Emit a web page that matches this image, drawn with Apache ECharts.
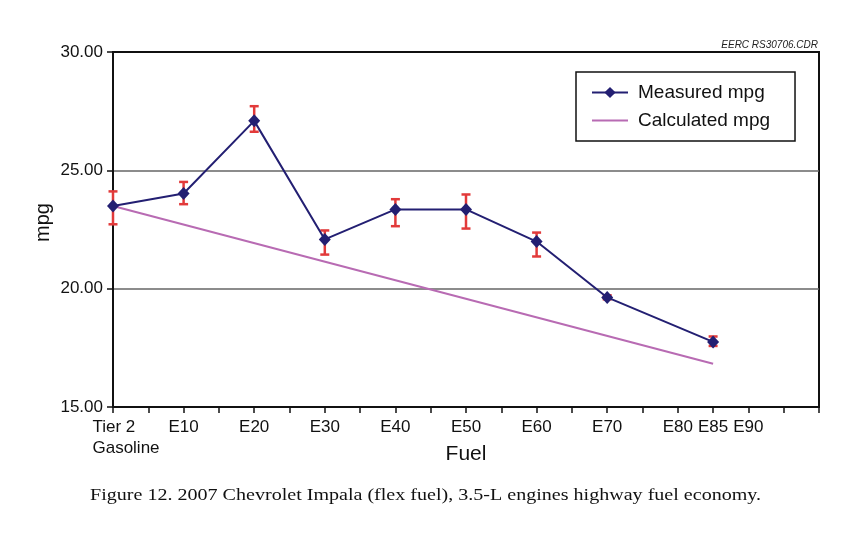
<!DOCTYPE html>
<html><head><meta charset="utf-8">
<script src="https://cdn.jsdelivr.net/npm/echarts@6/dist/echarts.min.js"></script>
<style>html,body{margin:0;padding:0;background:#fff}#c{width:846px;height:538px}</style>
</head><body><div id="c"></div>
<script>
const fuelX = [0, 10, 20, 30, 40, 50, 60, 70, 85];
const measured = [23.49, 24.02, 27.09, 22.08, 23.35, 23.35, 21.99, 19.63, 17.75];
const errLow = [22.72, 23.57, 26.63, 21.44, 22.64, 22.54, 21.36, 19.55, 17.58];
const errHigh = [24.11, 24.51, 27.71, 22.46, 23.78, 23.98, 22.37, 19.72, 17.98];
const calcX = [0, 85];
const calculated = [23.49, 16.83];
const tickValues = [0, 10, 20, 30, 40, 50, 60, 70, 80, 85, 90];
const tickLabels = ['Tier 2\nGasoline', 'E10', 'E20', 'E30', 'E40', 'E50', 'E60', 'E70', 'E80', 'E85', 'E90'];
const yMin = 15, yMax = 30, yStep = 5;

const SANS = 'Liberation Sans, Arial, sans-serif';
const chart = echarts.init(document.getElementById('c'), null, {renderer: 'canvas'});

const measuredData = fuelX.map((x, i) => [x, measured[i]]);
const calcData = calcX.map((x, i) => [x, calculated[i]]);
const errData = fuelX.map((x, i) => [x, errLow[i], errHigh[i]]);

chart.setOption({
  animation: false,
  backgroundColor: '#fff',
  grid: {left: 113, right: 27, top: 52, bottom: 131, show: true, borderColor: '#111', borderWidth: 2, backgroundColor: 'transparent'},
  legend: {
    orient: 'vertical', left: 576, top: 72,
    data: [
      {name: 'Measured mpg'},
      {name: 'Calculated mpg', itemStyle: {opacity: 0}}
    ],
    borderColor: '#111', borderWidth: 1.5, backgroundColor: '#fff',
    padding: [11, 25, 11, 15], itemGap: 9, itemWidth: 36, itemHeight: 14,
    textStyle: {fontFamily: SANS, fontSize: 19, color: '#111', padding: [0, 0, 0, 5]}
  },
  xAxis: {
    type: 'value', min: 0, max: 100, interval: 5,
    name: 'Fuel', nameLocation: 'middle', nameGap: 37, nameMoveOverlap: false,
    nameTextStyle: {fontFamily: SANS, fontSize: 21, color: '#111'},
    axisLine: {show: true, lineStyle: {color: '#111', width: 2}},
    axisTick: {show: true, inside: false, length: 6, lineStyle: {color: '#111', width: 1.5}},
    splitLine: {show: false},
    axisLabel: {
      fontFamily: SANS, fontSize: 17, color: '#111', margin: 10, lineHeight: 21,
      formatter: function (v) {
        const i = tickValues.indexOf(v);
        if (i < 0) return '';
        const parts = tickLabels[i].split('\n');
        if (parts.length > 1) return parts.map(p => '{g|' + p + '}').join('\n');
        return parts[0];
      },
      rich: {g: {fontFamily: SANS, fontSize: 17, color: '#111', align: 'left', padding: [0, 0, 0, 26], lineHeight: 21}}
    }
  },
  yAxis: {
    type: 'value', min: yMin, max: yMax, interval: yStep,
    name: 'mpg', nameLocation: 'middle', nameGap: 60, nameRotate: 90, nameMoveOverlap: false,
    nameTextStyle: {fontFamily: SANS, fontSize: 20, color: '#111', padding: [0, 0, 0, 14]},
    axisLine: {show: true, lineStyle: {color: '#111', width: 2}},
    axisTick: {show: true, inside: false, length: 6, lineStyle: {color: '#111', width: 1.5}},
    splitLine: {show: true, lineStyle: {color: ['#111', '#666', '#666', '#111'], width: 1.5}},
    axisLabel: {fontFamily: SANS, fontSize: 17, color: '#111', margin: 10, formatter: v => v.toFixed(2)}
  },
  series: [
    {
      name: 'Calculated mpg', type: 'line', data: calcData, symbol: 'none', showSymbol: false,
      lineStyle: {color: '#b86bb3', width: 2}, itemStyle: {color: '#b86bb3'}, z: 2
    },
    {
      name: 'err', type: 'custom', data: errData, z: 3,
      renderItem: function (params, api) {
        const x = api.value(0), lo = api.value(1), hi = api.value(2);
        const p1 = api.coord([x, lo]), p2 = api.coord([x, hi]);
        const w = 4.5;
        const st = {stroke: '#e23a3a', lineWidth: 2.5};
        return {type: 'group', children: [
          {type: 'line', shape: {x1: p1[0], y1: p1[1], x2: p2[0], y2: p2[1]}, style: st},
          {type: 'line', shape: {x1: p1[0] - w, y1: p1[1], x2: p1[0] + w, y2: p1[1]}, style: st},
          {type: 'line', shape: {x1: p2[0] - w, y1: p2[1], x2: p2[0] + w, y2: p2[1]}, style: st}
        ]};
      }
    },
    {
      name: 'Measured mpg', type: 'line', data: measuredData, symbol: 'diamond', symbolSize: [12, 13],
      lineStyle: {color: '#231f72', width: 2}, itemStyle: {color: '#231f72'}, z: 4
    }
  ],
  graphic: [
    {type: 'text', right: 28, top: 40, style: {text: 'EERC RS30706.CDR', font: 'italic 10px Liberation Sans, Arial, sans-serif', fill: '#222'}},
    {type: 'text', x: 90, y: 487, scaleX: 1.18, style: {text: 'Figure 12. 2007 Chevrolet Impala (flex fuel), 3.5-L engines highway fuel economy.', font: '17px Liberation Serif, Times New Roman, serif', fill: '#111', textVerticalAlign: 'top'}}
  ]
});
</script>
</body></html>
